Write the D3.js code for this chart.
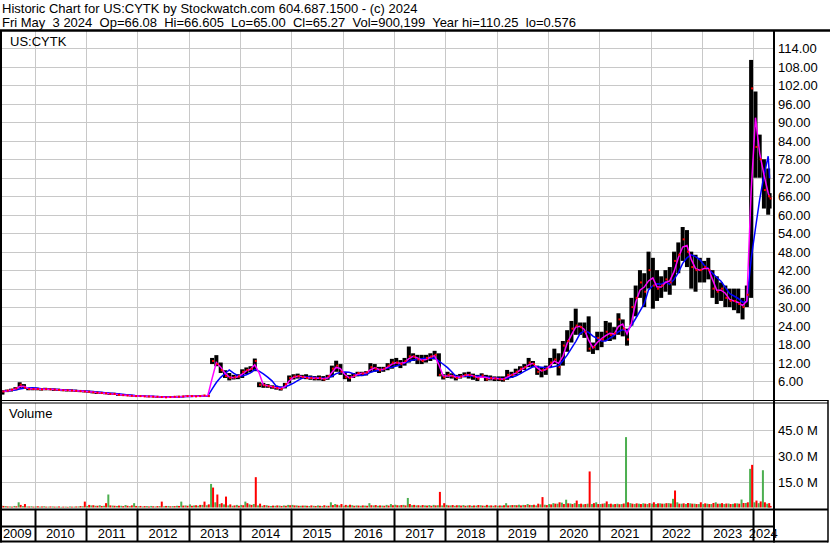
<!DOCTYPE html>
<html>
<head>
<meta charset="utf-8">
<title>Historic Chart US:CYTK</title>
<script src="https://cdnjs.cloudflare.com/ajax/libs/d3/7.8.5/d3.min.js"></script>
<style>
  html, body { margin: 0; padding: 0; background: #fff; }
  svg { display: block; }
  text { font-family: "Liberation Sans", Arial, sans-serif; font-size: 13px; fill: #000; }
</style>
</head>
<body>
<svg id="chart" width="830" height="543"></svg>
<script>
var title = "Historic Chart for US:CYTK by Stockwatch.com 604.687.1500 - (c) 2024";
var quote = "Fri May  3 2024  Op=66.08  Hi=66.605  Lo=65.00  Cl=65.27  Vol=900,199  Year hi=110.25  lo=0.576";
var symbol = "US:CYTK";
var firstMonth = "2009-05-01", lastDate = "2024-05-03";
var yearLabels = ["2009","2010","2011","2012","2013","2014","2015","2016","2017","2018","2019","2020","2021","2022","2023","2024"];
var priceTicks = [6,12,18,24,30,36,42,48,54,60,66,72,78,84,90,96,102,108,114];
var volTicks = [15,30,45];

// monthly high / low / close, May 2009 .. May 2024
var high = [
  3.0,3.2,3.5,4.0,5.6,5.0,3.8,3.7,
  3.8,3.7,3.8,3.7,3.6,3.5,3.4,3.4,3.3,3.2,3.1,3.0,
  2.9,2.8,2.6,2.5,2.4,2.2,2.2,2.0,1.8,1.7,1.5,1.4,
  1.4,1.3,1.2,1.2,1.1,1.0,1.0,1.0,1.1,1.2,1.2,1.3,
  1.3,1.3,1.4,1.5,1.4,13.5,14.4,12.0,9.5,8.6,8.0,8.2,
  9.8,10.4,10.8,13.3,5.6,5.4,5.0,4.6,4.5,4.2,5.4,7.8,
  8.2,8.4,8.0,8.2,7.8,7.6,7.8,7.6,8.0,11.0,12.6,11.5,
  8.6,8.0,8.6,9.0,9.0,9.2,11.8,11.5,10.6,10.6,11.8,13.2,
  13.5,12.8,13.5,17.2,15.0,14.5,14.5,14.5,15.0,15.8,15.0,8.2,
  9.0,8.5,8.0,8.3,8.8,9.0,8.4,8.0,8.5,8.0,7.8,7.5,
  7.5,7.5,9.6,9.0,10.0,10.8,11.5,13.5,12.5,11.0,10.5,11.0,
  13.5,16.5,15.0,19.0,22.5,25.5,29.5,25.0,25.0,27.0,18.5,22.0,
  22.0,25.5,25.0,23.5,28.0,26.0,23.0,33.0,37.0,42.0,41.0,48.0,
  46.0,42.0,40.0,42.0,43.0,48.0,51.0,56.0,55.0,48.0,47.0,46.0,
  45.0,46.0,42.0,40.0,38.0,37.0,36.0,36.0,36.0,33.0,37.0,110.25,
  100.0,86.0,78.0,75.0,67.0
];
var low = [
  1.6,2.4,2.6,3.0,3.6,3.5,3.0,3.0,
  3.0,2.9,3.0,3.0,2.8,2.8,2.7,2.6,2.6,2.5,2.4,2.3,
  2.2,2.0,1.8,1.8,1.7,1.5,1.5,1.2,1.2,1.1,1.0,0.9,
  0.9,0.9,0.8,0.8,0.7,0.6,0.58,0.6,0.7,0.7,0.8,0.8,
  0.9,0.9,0.9,1.0,1.0,11.5,10.8,8.6,7.0,6.2,6.5,6.6,
  7.0,8.2,8.8,9.2,4.0,3.8,3.8,3.5,3.2,2.9,3.6,5.2,
  6.5,6.8,6.8,6.6,6.4,6.2,6.2,6.0,6.4,7.2,9.0,8.0,
  6.6,5.8,7.0,7.5,7.6,7.8,8.8,9.0,8.6,9.0,9.5,10.0,
  10.8,10.2,11.0,12.0,12.5,11.5,11.5,12.0,12.5,13.0,7.5,6.5,
  7.0,6.8,6.2,6.8,7.2,6.8,6.4,6.0,7.0,6.0,6.2,6.0,
  6.0,5.8,6.4,7.0,7.8,8.5,9.6,10.5,10.5,8.0,7.2,8.0,
  10.5,11.5,7.8,11.0,15.5,18.5,21.0,21.0,20.0,15.5,14.8,16.0,
  17.0,19.0,19.0,19.5,21.0,20.5,17.5,24.0,27.0,33.0,30.0,36.0,
  29.5,32.0,33.0,35.0,34.0,37.0,41.0,45.0,43.0,36.0,35.0,38.0,
  38.0,39.0,33.0,31.0,32.0,30.0,30.0,29.0,28.0,26.0,30.0,33.0,
  72.0,72.0,62.0,60.0,62.0
];
var close = [
  2.6,2.9,3.2,3.6,4.8,3.8,3.4,3.4,
  3.4,3.3,3.4,3.3,3.2,3.1,3.0,3.0,2.9,2.8,2.7,2.6,
  2.5,2.3,2.2,2.1,2.0,1.8,1.8,1.5,1.4,1.3,1.2,1.1,
  1.1,1.0,1.0,0.9,0.9,0.8,0.7,0.8,0.9,0.9,1.0,1.1,
  1.1,1.0,1.1,1.3,1.1,12.5,11.5,9.5,7.6,7.0,7.2,7.5,
  9.0,9.6,10.0,12.5,4.8,4.6,4.3,4.0,3.7,3.4,5.0,7.0,
  7.5,7.6,7.3,7.0,7.0,6.8,7.0,6.5,7.5,10.0,11.0,9.0,
  7.2,7.0,7.8,8.6,8.4,8.8,10.5,10.0,9.5,10.0,11.0,12.0,
  12.0,11.5,12.5,14.0,14.0,13.0,12.5,13.5,14.0,14.5,8.0,7.2,
  8.0,7.5,7.0,7.5,8.0,8.0,7.5,6.8,7.8,6.5,7.0,6.8,
  6.6,6.5,8.0,8.0,9.0,10.0,10.5,12.0,11.5,9.0,9.5,10.0,
  12.0,13.0,10.5,17.5,19.0,23.0,24.0,23.5,22.0,16.5,17.0,20.0,
  19.5,22.0,21.0,21.5,26.0,23.0,19.5,30.0,33.0,38.0,35.0,42.0,
  37.0,36.0,37.0,39.0,38.0,45.0,47.0,52.0,48.0,43.0,42.0,42.0,
  43.0,42.0,36.0,35.0,36.0,33.0,32.0,32.0,31.0,30.0,34.0,101.0,
  82.0,78.0,68.0,66.0,65.27
];
// largest up-week and down-week volume in each month, millions
var volUp = [
  1.2,0.8,0.6,0.9,3.0,0.8,0.6,0.7,
  0.6,0.5,0.7,0.5,0.6,0.5,0.4,0.5,0.6,0.5,0.6,0.7,
  0.9,1.2,1.0,1.3,1.0,7.5,1.1,0.9,1.0,1.4,0.8,2.5,
  0.7,0.6,0.8,0.9,0.6,0.8,0.7,0.9,0.8,1.0,3.4,1.2,
  1.8,1.2,1.0,1.5,1.3,13.6,3.0,2.0,1.8,1.2,1.0,1.5,
  1.5,3.4,1.8,2.0,1.2,1.0,1.3,0.9,1.0,1.1,1.2,1.5,
  1.5,1.2,1.0,1.1,0.9,1.0,1.2,0.9,1.0,3.0,2.0,1.2,
  1.0,1.1,1.3,1.2,1.0,1.1,2.5,1.2,1.0,1.1,1.5,2.0,
  1.6,1.2,1.5,5.5,1.3,1.2,1.1,1.2,1.4,1.5,1.3,1.2,
  1.5,1.2,1.0,1.3,1.4,1.2,1.0,1.1,1.3,1.0,1.1,1.0,
  1.0,1.1,2.5,1.3,1.4,1.6,1.5,2.0,1.4,1.2,1.8,1.6,
  2.0,2.5,2.2,2.8,4.5,2.3,2.5,2.0,1.8,2.2,2.0,3.0,
  2.0,2.4,2.0,1.8,2.2,2.0,40.6,2.5,2.0,2.2,2.4,2.0,
  2.2,2.0,2.4,2.2,2.5,5.0,3.0,2.2,2.0,2.4,2.2,2.0,
  2.0,2.2,2.0,3.0,2.2,2.0,2.3,2.1,2.4,4.6,2.6,22.3,
  3.0,2.5,21.5,2.2,1.0
];
var volDown = [
  0.9,0.6,0.5,0.7,1.5,2.0,0.6,0.5,
  0.7,0.6,0.5,0.6,0.5,0.6,0.5,0.4,0.5,0.6,0.8,3.4,
  1.5,1.3,1.0,0.9,2.5,1.2,1.0,1.1,0.8,1.0,1.2,0.9,
  0.9,0.8,0.6,0.7,0.8,3.4,0.9,0.7,0.8,0.9,1.1,1.0,
  1.0,1.3,1.5,3.4,1.8,11.5,7.5,2.5,6.3,1.8,1.2,1.0,
  1.3,2.5,1.5,17.5,2.2,1.4,1.0,1.1,1.2,0.9,1.0,1.3,
  1.2,1.0,1.1,1.0,1.2,0.9,1.0,1.3,1.0,1.4,1.6,2.0,
  1.5,1.6,1.0,1.1,1.2,1.0,1.3,1.4,1.2,1.0,1.1,1.3,
  1.3,1.4,1.2,2.0,1.5,1.3,1.4,1.1,1.0,1.2,9.0,2.5,
  1.2,1.4,1.3,1.1,1.0,1.3,1.2,1.4,1.1,1.5,1.2,1.3,
  1.2,1.3,1.2,1.4,1.3,1.2,1.4,1.5,1.6,2.2,6.0,1.4,
  1.8,2.2,3.0,2.0,2.4,2.0,4.0,2.2,2.0,20.8,2.5,2.0,
  2.2,3.5,2.2,2.0,1.9,2.3,3.0,2.2,2.4,2.0,2.2,2.5,
  3.0,2.4,2.2,2.5,2.3,9.8,2.2,2.4,2.6,2.2,2.0,3.0,
  2.4,2.0,2.6,2.2,2.5,2.3,2.0,2.4,2.2,2.6,3.0,24.6,
  4.0,3.5,3.0,2.5,0.9
];

var svg = d3.select("#chart");
var plotL = 2, plotR = 773, axisX = 774, rightX = 828;
var pTop = 31, pBot = 400, vTop = 403, vBot = 509, rowY = 526.5, botY = 541.5;

var parse = d3.timeParse("%Y-%m-%d");
var start = parse(firstMonth), endDate = parse(lastDate);
var months = close.map(function(d, i) { return d3.timeMonth.offset(start, i); });

var x = d3.scaleTime()
  .domain([new Date(2010, 0, 1), new Date(2024, 0, 1)])
  .range([34.7, 753.3]);
var yP = d3.scaleLinear().domain([0, 120]).range([399.5, 29.9]);
var yV = d3.scaleLinear().domain([0, 45]).range([507.5, 429.5]);

function mid(m) {
  var n = d3.timeMonth.offset(m, 1);
  var c = x(new Date((+m + +n) / 2));
  return Math.min(c, x(endDate) - 1);
}
var cx = months.map(mid);

function ma(n) {
  return close.map(function(c, i) { return d3.mean(close.slice(Math.max(0, i - n + 1), i + 1)); });
}
var maFast = ma(2), maSlow = ma(5);

svg.append("defs").append("clipPath").attr("id", "pclip")
  .append("rect").attr("x", plotL).attr("y", pTop).attr("width", plotR - plotL).attr("height", vBot - pTop);

// header
svg.append("text").attr("x", 2).attr("y", 13).text(title);
svg.append("text").attr("x", 2).attr("y", 27).attr("xml:space", "preserve")
  .style("white-space", "pre").text(quote);

// grid
var yearStarts = yearLabels.slice(1).map(function(y) { return new Date(+y, 0, 1); });
var grid = svg.append("g").attr("stroke", "#c8c8c8").attr("stroke-width", 1);
yearStarts.forEach(function(d) {
  var gx = Math.round(x(d)) + 0.5;
  grid.append("line").attr("x1", gx).attr("x2", gx).attr("y1", pTop).attr("y2", pBot);
  grid.append("line").attr("x1", gx).attr("x2", gx).attr("y1", vTop).attr("y2", vBot);
});
priceTicks.forEach(function(t) {
  var gy = Math.round(yP(t)) + 0.5;
  grid.append("line").attr("x1", plotL).attr("x2", plotR).attr("y1", gy).attr("y2", gy);
});
volTicks.forEach(function(t) {
  var gy = Math.round(yV(t)) + 0.5;
  grid.append("line").attr("x1", plotL).attr("x2", plotR).attr("y1", gy).attr("y2", gy);
});

svg.append("text").attr("x", 10).attr("y", 46).text(symbol);
svg.append("text").attr("x", 9).attr("y", 418).text("Volume");

var plot = svg.append("g").attr("clip-path", "url(#pclip)");

// price bars
plot.append("g").selectAll("rect").data(close).enter().append("rect")
  .attr("x", function(d, i) { return cx[i] - 2; })
  .attr("width", 4)
  .attr("y", function(d, i) { return yP(high[i]); })
  .attr("height", function(d, i) { return Math.max(1.5, yP(low[i]) - yP(high[i])); })
  .attr("fill", "#000");

var line = d3.line().x(function(d, i) { return cx[i]; }).y(function(d) { return yP(d); });
plot.append("path").datum(maSlow).attr("d", line)
  .attr("fill", "none").attr("stroke", "#0000ff").attr("stroke-width", 1.5);
plot.append("path").datum(maFast).attr("d", line)
  .attr("fill", "none").attr("stroke", "#ff00ff").attr("stroke-width", 1.5);

// close marks
plot.append("g").selectAll("rect").data(close).enter().append("rect")
  .attr("x", function(d, i) { return cx[i]; })
  .attr("y", function(d) { return yP(d) - 1; })
  .attr("width", 2).attr("height", 2)
  .attr("fill", "#ff0000");

// volume
plot.append("g").selectAll("rect").data(volUp).enter().append("rect")
  .attr("x", function(d, i) { return cx[i] - 2; })
  .attr("width", 2)
  .attr("y", function(d) { return yV(d); })
  .attr("height", function(d) { return yV(0) - yV(d); })
  .attr("fill", "#4caf50");
plot.append("g").selectAll("rect").data(volDown).enter().append("rect")
  .attr("x", function(d, i) { return cx[i]; })
  .attr("width", 2)
  .attr("y", function(d) { return yV(d); })
  .attr("height", function(d) { return yV(0) - yV(d); })
  .attr("fill", "#ff0000");

// right axis labels
svg.append("g").selectAll("text").data(priceTicks).enter().append("text")
  .attr("x", 778).attr("y", function(d) { return yP(d) + 5; })
  .text(function(d) { return d3.format(".2f")(d); });
svg.append("g").selectAll("text").data(volTicks).enter().append("text")
  .attr("x", 778).attr("y", function(d) { return yV(d) + 5; })
  .text(function(d) { return d3.format(".1f")(d) + " M"; });

// frame
var frame = svg.append("g").attr("stroke", "#000");
function ln(x1, y1, x2, y2, w) {
  frame.append("line").attr("x1", x1).attr("y1", y1).attr("x2", x2).attr("y2", y2).attr("stroke-width", w);
}
ln(0, 30.5, 830, 30.5, 2.5);
ln(1, 30, 1, 542.5, 2);
ln(axisX, 30, axisX, 542.5, 2);
ln(rightX, 400, rightX, 542.5, 1.5);
ln(0, 400.5, rightX, 400.5, 1);
ln(0, 403, rightX, 403, 1);
ln(0, vBot + 0.5, rightX, vBot + 0.5, 2);
ln(0, rowY, axisX, rowY, 2);
ln(0, botY, rightX, botY, 2);
yearStarts.forEach(function(d) {
  var gx = Math.round(x(d)) + 0.5;
  ln(gx, vBot, gx, botY, 2);
});

// year labels
svg.append("g").selectAll("text").data(yearLabels).enter().append("text")
  .attr("text-anchor", "middle")
  .attr("y", 538)
  .attr("x", function(d) {
    var a = Math.max(x(new Date(+d, 0, 1)), 0);
    var b = Math.min(x(new Date(+d + 1, 0, 1)), plotR);
    return (a + b) / 2;
  })
  .text(function(d) { return d; });
</script>
</body>
</html>
